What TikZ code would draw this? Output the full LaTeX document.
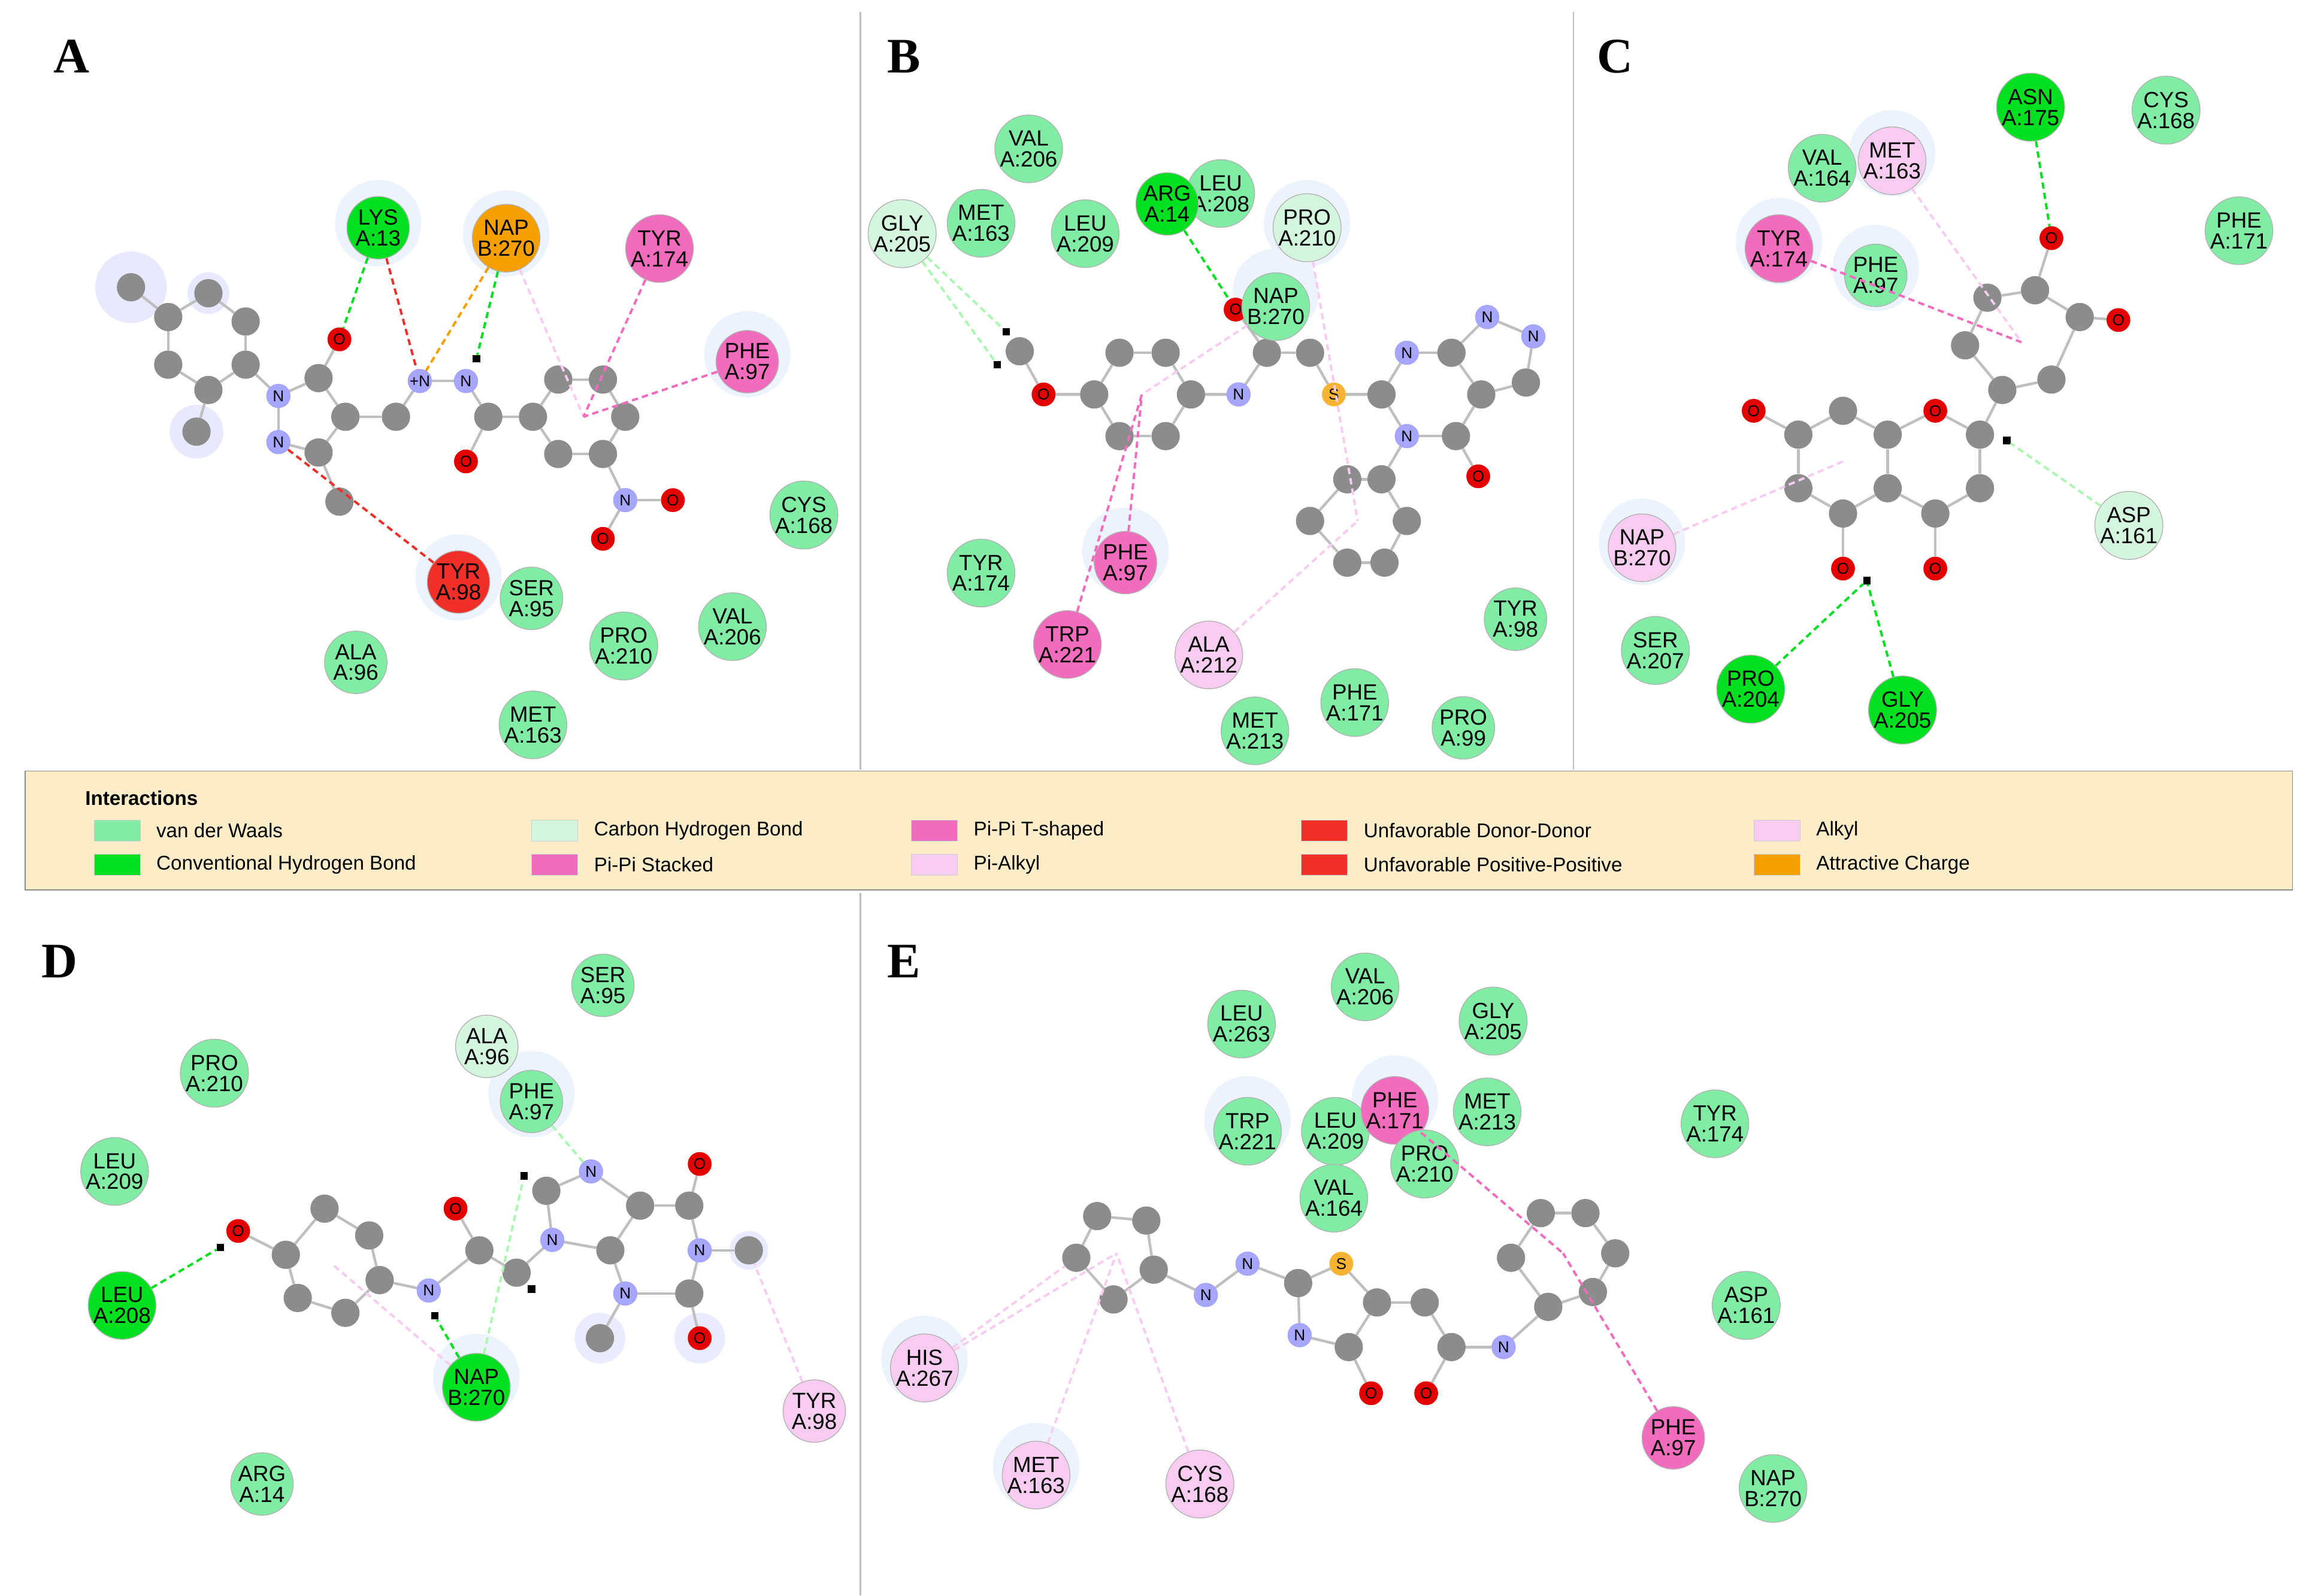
\documentclass[tikz,border=0pt]{standalone}
\usepackage{fontspec}
\setmainfont{Liberation Sans}
\newfontfamily\serifb{Liberation Serif}
\pgfdeclarelayer{hl}\pgfdeclarelayer{bg}\pgfsetlayers{hl,bg,main}
\begin{document}
\definecolor{vdw}{HTML}{80ECA4}
\definecolor{hb}{HTML}{00E020}
\definecolor{chb}{HTML}{D4F5DE}
\definecolor{pis}{HTML}{F26CBE}
\definecolor{pia}{HTML}{F8CCF0}
\definecolor{unf}{HTML}{F03028}
\definecolor{att}{HTML}{F5A000}
\definecolor{halo}{HTML}{EDF3FC}
\begin{tikzpicture}[x=1mm,y=-1mm,
 res/.style={circle,draw=black!30,line width=1.5pt,minimum size=42mm,inner sep=0,align=center,font=\fontsize{42}{40}\selectfont},
 rv/.style={res,fill=vdw},rh/.style={res,fill=hb},rc/.style={res,fill=chb},
 rp/.style={res,fill=pis},ra/.style={res,fill=pia},ru/.style={res,fill=unf},rt/.style={res,fill=att},
 c/.style={circle,fill=black!45,minimum size=19mm,inner sep=0},
 n/.style={circle,fill=blue!35,draw=blue!45,minimum size=16mm,inner sep=0,font=\fontsize{30}{30}\selectfont},
 o/.style={circle,fill=red!90!black,minimum size=16mm,inner sep=0,font=\fontsize{30}{30}\selectfont},
 s/.style={circle,fill=att!80,minimum size=16mm,inner sep=0,font=\fontsize{30}{30}\selectfont},
 h/.style={rectangle,fill=black,minimum size=5mm,inner sep=0},
 bd/.style={draw=black!25,line width=5pt},
 i/.style={line width=4.5pt,dash pattern=on 12pt off 8pt},
 ihb/.style={i,draw=hb},iu/.style={i,draw=unf},iat/.style={i,draw=att},
 ip/.style={i,draw=pis},ia/.style={i,draw=pia},ic/.style={i,draw=chb!80!green},
 ho/.style={circle,fill=halo,minimum size=58mm,inner sep=0},
 pl/.style={font=\serifb\bfseries\fontsize{95}{95}\selectfont}]
\newcommand\rs[5]{\node[#1] (#2) at (#3) {#4\\#5};}
\newcommand\hal[2]{\begin{pgfonlayer}{hl}\node[ho] (#1) at (#2) {};\end{pgfonlayer}}
\newcommand\bonds[1]{\begin{pgfonlayer}{bg}\foreach \p/\q in {#1}{\draw[bd] (\p)--(\q);}\end{pgfonlayer}}
\useasboundingbox (0,0) rectangle (1545,1072);
\begin{pgfonlayer}{hl}\fill[white] (0,0) rectangle (1545,1072);\end{pgfonlayer}
\draw[black!25,line width=3pt] (578,8)--(578,517) (1057,8)--(1057,517) (578,600)--(578,1072);
% legend
\draw[black!45,line width=2pt,fill={rgb,255:red,253;green,236;blue,200}] (17,518) rectangle (1540,598);
\node[anchor=west,font=\bfseries\fontsize{38}{38}\selectfont] (lt) at (56,536) {Interactions};
\foreach \x/\y/\col/\t [count=\k] in {63/558/vdw/van der Waals,63/581/hb/Conventional Hydrogen Bond,357/558/chb/Carbon Hydrogen Bond,357/581/pis/Pi-Pi Stacked,612/558/pis/Pi-Pi T-shaped,612/581/pia/Pi-Alkyl,874/558/unf/Unfavorable Donor-Donor,874/581/unf/Unfavorable Positive-Positive,1178/558/pia/Alkyl,1178/581/att/Attractive Charge}{
 \node[fill=\col,draw=black!20,minimum width=31mm,minimum height=14mm,inner sep=0,anchor=west] (sw\k) at (\x,\y) {};
 \node[anchor=west,font=\fontsize{38}{38}\selectfont,inner sep=0] (lb\k) at (\x+42,\y) {\t};}
\node[pl] (LA) at (48,38) {A};\node[pl] (LB) at (607,38) {B};\node[pl] (LC) at (1085,38) {C};
\node[pl] (LD) at (40,646) {D};\node[pl] (LE) at (607,646) {E};
%%%%%%%% PANEL A
\hal{ha1}{254,150}\hal{ha2}{340,157}\hal{ha3}{502,238}\hal{ha4}{308,388}
\begin{pgfonlayer}{hl}\fill[blue!9] (88,193) circle (24) (132,290) circle (18) (140,197) circle(14);\end{pgfonlayer}
\node[c] (a1) at (88,193) {};
\node[c] (a2) at (113,213) {};\node[c] (a3) at (140,197) {};\node[c] (a4) at (165,216) {};
\node[c] (a5) at (165,245) {};\node[c] (a6) at (140,262) {};\node[c] (a7) at (113,245) {};
\node[c] (a8) at (132,290) {};
\node[n] (a9) at (187,266) {N};\node[n] (a10) at (187,297) {N};
\node[c] (a11) at (214,254) {};\node[o] (a12) at (228,228) {O};
\node[c] (a13) at (232,280) {};\node[c] (a14) at (214,304) {};\node[c] (a15) at (228,337) {};
\node[c] (a16) at (266,280) {};\node[n] (a17) at (282,256) {+N};\node[n] (a18) at (313,256) {N};
\node[h] (a19) at (320,241) {};
\node[c] (a20) at (328,280) {};\node[o] (a21) at (313,310) {O};\node[c] (a22) at (358,280) {};
\node[c] (a23) at (375,255) {};\node[c] (a24) at (405,255) {};\node[c] (a25) at (420,280) {};
\node[c] (a26) at (405,305) {};\node[c] (a27) at (375,305) {};
\node[n] (a28) at (420,336) {N};\node[o] (a29) at (452,336) {O};\node[o] (a30) at (405,362) {O};
\bonds{a2/a3,a3/a4,a4/a5,a5/a6,a6/a7,a7/a2,a1/a2,a6/a8,a5/a9,a9/a11,a11/a12,a11/a13,a13/a14,a14/a10,a10/a9,a14/a15,a13/a16,a16/a17,a17/a18,a18/a20,a20/a21,a20/a22,a22/a23,a23/a24,a24/a25,a25/a26,a26/a27,a27/a22,a26/a28,a28/a29,a28/a30}
\rs{rh}{lys13}{254,153}{LYS}{A:13}
\rs{rt}{napA}{340,160}{NAP}{B:270}
\rs{rp}{tyr174a}{443,167}{TYR}{A:174}
\rs{rp}{phe97a}{502,243}{PHE}{A:97}
\rs{rv}{cys168a}{540,346}{CYS}{A:168}
\rs{ru}{tyr98a}{308,391}{TYR}{A:98}
\rs{rv}{ser95a}{357,402}{SER}{A:95}
\rs{rv}{pro210a}{419,434}{PRO}{A:210}
\rs{rv}{val206a}{492,421}{VAL}{A:206}
\rs{rv}{ala96a}{239,445}{ALA}{A:96}
\rs{rv}{met163a}{358,487}{MET}{A:163}
\coordinate (ringA) at (392,280);
\draw[ihb] (lys13)--(a12);\draw[iu] (lys13)--(a17);\draw[iat] (napA)--(a17);\draw[ihb] (napA)--(a19);
\draw[ia] (napA)--(ringA);\draw[ip] (tyr174a)--(ringA);\draw[ip] (phe97a)--(ringA);\draw[iu] (tyr98a)--(a10);
%%%%%%%% PANEL B
\hal{hb1}{857,196}\hal{hb2}{756,370}\hal{hb3}{878,150}
\node[h] (b0) at (676,223) {};\node[c] (b1) at (685,236) {};\node[h] (b2) at (670,245) {};\node[o] (b3) at (701,265) {O};
\node[c] (b4) at (735,265) {};\node[c] (b5) at (752,237) {};\node[c] (b6) at (783,237) {};\node[c] (b7) at (800,265) {};
\node[c] (b8) at (783,293) {};\node[c] (b9) at (752,293) {};
\node[n] (b10) at (832,265) {N};\node[c] (b11) at (851,237) {};\node[o] (b12) at (830,208) {O};
\node[c] (b13) at (880,237) {};\node[s] (b14) at (896,265) {S};\node[c] (b15) at (928,265) {};
\node[n] (b16) at (945,237) {N};\node[c] (b17) at (975,237) {};\node[c] (b18) at (995,265) {};
\node[n] (b19) at (945,293) {N};\node[c] (b20) at (978,293) {};\node[o] (b21) at (993,320) {O};
\node[n] (b22) at (999,213) {N};\node[n] (b23) at (1030,226) {N};\node[c] (b24) at (1025,257) {};
\node[c] (b25) at (928,322) {};\node[c] (b26) at (905,322) {};\node[c] (b27) at (880,350) {};\node[c] (b28) at (905,378) {};\node[c] (b29) at (930,378) {};\node[c] (b30) at (945,350) {};
\bonds{b1/b3,b3/b4,b4/b5,b5/b6,b6/b7,b7/b8,b8/b9,b9/b4,b7/b10,b10/b11,b11/b12,b11/b13,b13/b14,b14/b15,b15/b16,b16/b17,b17/b18,b18/b20,b20/b19,b19/b15,b20/b21,b17/b22,b22/b23,b23/b24,b24/b18,b19/b25,b25/b26,b26/b27,b27/b28,b28/b29,b29/b30,b30/b25}
\rs{rv}{val206b}{691,100}{VAL}{A:206}
\rs{rc}{gly205b}{606,157}{GLY}{A:205}
\rs{rv}{met163b}{659,150}{MET}{A:163}
\rs{rv}{leu209b}{729,157}{LEU}{A:209}
\rs{rv}{leu208b}{820,130}{LEU}{A:208}
\rs{rh}{arg14b}{784,137}{ARG}{A:14}
\rs{rc}{pro210b}{878,153}{PRO}{A:210}
\rs{rv}{napb}{857,206}{NAP}{B:270}
\rs{rv}{tyr174b}{659,385}{TYR}{A:174}
\rs{rp}{phe97b}{756,378}{PHE}{A:97}
\rs{rp}{trp221b}{717,433}{TRP}{A:221}
\rs{ra}{ala212b}{812,440}{ALA}{A:212}
\rs{rv}{met213b}{843,491}{MET}{A:213}
\rs{rv}{phe171b}{910,472}{PHE}{A:171}
\rs{rv}{pro99b}{983,489}{PRO}{A:99}
\rs{rv}{tyr98b}{1018,416}{TYR}{A:98}
\coordinate (ringB) at (767,265);\coordinate (ringB2) at (912,350);
\draw[ic] (gly205b)--(b0);\draw[ic] (gly205b)--(b2);\draw[ihb] (arg14b)--(b12);
\draw[ip] (phe97b)--(ringB);\draw[ip] (trp221b)--(ringB);\draw[ia] (ala212b)--(ringB2);\draw[ia] (pro210b)--(ringB2);\draw[ia] (napb)--(ringB);
%%%%%%%% PANEL C
\hal{hc1}{1271,103}\hal{hc2}{1195,162}\hal{hc3}{1260,180}\hal{hc4}{1103,364}
\node[o] (c1) at (1378,160) {O};\node[c] (c2) at (1367,195) {};\node[c] (c3) at (1335,200) {};\node[c] (c4) at (1397,213) {};
\node[c] (c5) at (1378,255) {};\node[c] (c6) at (1345,262) {};\node[c] (c7) at (1320,232) {};\node[o] (c8) at (1423,215) {O};
\node[c] (c9) at (1330,292) {};\node[h] (c10) at (1348,296) {};
\node[c] (c11) at (1208,292) {};\node[c] (c12) at (1238,276) {};\node[c] (c13) at (1268,292) {};\node[c] (c14) at (1268,328) {};\node[c] (c15) at (1238,345) {};\node[c] (c16) at (1208,328) {};
\node[o] (c17) at (1300,276) {O};\node[c] (c18) at (1330,328) {};\node[c] (c19) at (1300,345) {};
\node[o] (c20) at (1178,276) {O};\node[o] (c21) at (1238,382) {O};\node[o] (c22) at (1300,382) {O};\node[h] (c23) at (1254,390) {};
\bonds{c1/c2,c2/c3,c2/c4,c4/c5,c5/c6,c6/c7,c7/c3,c4/c8,c6/c9,c11/c12,c12/c13,c13/c14,c14/c15,c15/c16,c16/c11,c13/c17,c17/c9,c9/c18,c18/c19,c19/c14,c11/c20,c15/c21,c19/c22}
\rs{rh}{asn175c}{1364,72}{ASN}{A:175}
\rs{rv}{cys168c}{1455,74}{CYS}{A:168}
\rs{rv}{val164c}{1224,113}{VAL}{A:164}
\rs{ra}{met163c}{1271,108}{MET}{A:163}
\rs{rv}{phe171c}{1504,155}{PHE}{A:171}
\rs{rp}{tyr174c}{1195,167}{TYR}{A:174}
\rs{rv}{phe97c}{1260,185}{PHE}{A:97}
\rs{ra}{napc}{1103,368}{NAP}{B:270}
\rs{rc}{asp161c}{1430,353}{ASP}{A:161}
\rs{rv}{ser207c}{1112,437}{SER}{A:207}
\rs{rh}{pro204c}{1176,463}{PRO}{A:204}
\rs{rh}{gly205c}{1278,477}{GLY}{A:205}
\coordinate (ringC) at (1358,230);\coordinate (ringC2) at (1238,310);
\draw[ihb] (asn175c)--(c1);\draw[ip] (tyr174c)--(ringC);\draw[ia] (met163c)--(ringC);\draw[ia] (napc)--(ringC2);
\draw[ic] (asp161c)--(c10);\draw[ihb] (pro204c)--(c23);\draw[ihb] (gly205c)--(c23);
%%%%%%%% PANEL D
\hal{hd1}{357,735}\hal{hd2}{320,925}
\begin{pgfonlayer}{hl}\fill[blue!8] (403,899) circle (17) (470,899) circle (17) (503,840) circle (13);\end{pgfonlayer}
\node[o] (d1) at (160,827) {O};\node[h] (d2) at (148,838) {};
\node[c] (d3) at (192,843) {};\node[c] (d4) at (218,812) {};\node[c] (d5) at (248,830) {};\node[c] (d6) at (255,860) {};\node[c] (d7) at (232,882) {};\node[c] (d8) at (200,872) {};
\node[n] (d9) at (288,867) {N};\node[h] (d10) at (292,884) {};\node[c] (d11) at (322,840) {};\node[o] (d12) at (306,812) {O};
\node[c] (d13) at (347,855) {};\node[h] (d14) at (357,866) {};\node[n] (d15) at (371,833) {N};\node[c] (d16) at (367,800) {};\node[h] (d17) at (352,790) {};
\node[n] (d18) at (397,787) {N};\node[c] (d19) at (430,810) {};\node[c] (d20) at (463,810) {};\node[o] (d21) at (470,782) {O};
\node[n] (d22) at (470,840) {N};\node[c] (d23) at (503,840) {};\node[c] (d24) at (463,869) {};\node[o] (d25) at (470,899) {O};
\node[n] (d26) at (420,869) {N};\node[c] (d27) at (403,899) {};\node[c] (d28) at (410,840) {};
\bonds{d1/d3,d3/d4,d4/d5,d5/d6,d6/d7,d7/d8,d8/d3,d6/d9,d9/d11,d11/d12,d11/d13,d13/d15,d15/d16,d16/d18,d18/d19,d19/d28,d28/d15,d19/d20,d20/d21,d20/d22,d22/d23,d22/d24,d24/d25,d24/d26,d26/d28,d26/d27}
\rs{rv}{ser95d}{405,662}{SER}{A:95}
\rs{rc}{ala96d}{327,703}{ALA}{A:96}
\rs{rv}{phe97d}{357,740}{PHE}{A:97}
\rs{rv}{pro210d}{144,721}{PRO}{A:210}
\rs{rv}{leu209d}{77,787}{LEU}{A:209}
\rs{rh}{leu208d}{82,877}{LEU}{A:208}
\rs{rh}{napd}{320,932}{NAP}{B:270}
\rs{ra}{tyr98d}{547,948}{TYR}{A:98}
\rs{rv}{arg14d}{176,997}{ARG}{A:14}
\coordinate (ringD) at (224,850);
\draw[ihb] (leu208d)--(d2);\draw[ihb] (napd)--(d10);\draw[ic] (napd)--(d17);\draw[ic] (phe97d)--(d18);
\draw[ia] (napd)--(ringD);\draw[ia] (tyr98d)--(d23);
%%%%%%%% PANEL E
\hal{he1}{838,752}\hal{he2}{937,738}\hal{he3}{696,985}\hal{he4}{621,913}
\node[c] (e1) at (723,845) {};\node[c] (e2) at (737,817) {};\node[c] (e3) at (770,820) {};\node[c] (e4) at (775,853) {};\node[c] (e5) at (748,873) {};
\node[n] (e6) at (810,870) {N};\node[n] (e7) at (838,849) {N};\node[c] (e8) at (872,862) {};\node[s] (e9) at (901,849) {S};
\node[c] (e10) at (925,875) {};\node[n] (e11) at (873,897) {N};\node[c] (e12) at (906,905) {};\node[o] (e13) at (921,936) {O};
\node[c] (e14) at (957,875) {};\node[c] (e15) at (975,905) {};\node[o] (e16) at (958,936) {O};\node[n] (e17) at (1010,905) {N};
\node[c] (e18) at (1040,878) {};\node[c] (e19) at (1070,868) {};\node[c] (e20) at (1085,842) {};\node[c] (e21) at (1065,815) {};\node[c] (e22) at (1035,815) {};\node[c] (e23) at (1015,845) {};
\bonds{e1/e2,e2/e3,e3/e4,e4/e5,e5/e1,e4/e6,e6/e7,e7/e8,e8/e9,e9/e10,e8/e11,e11/e12,e12/e10,e12/e13,e10/e14,e14/e15,e15/e16,e15/e17,e17/e18,e18/e19,e19/e20,e20/e21,e21/e22,e22/e23,e23/e18}
\rs{rv}{leu263e}{834,688}{LEU}{A:263}
\rs{rv}{val206e}{917,663}{VAL}{A:206}
\rs{rv}{gly205e}{1003,686}{GLY}{A:205}
\rs{rv}{trp221e}{838,760}{TRP}{A:221}
\rs{rv}{leu209e}{897,760}{LEU}{A:209}
\rs{rp}{phe171e}{937,746}{PHE}{A:171}
\rs{rv}{met213e}{999,747}{MET}{A:213}
\rs{rv}{pro210e}{957,782}{PRO}{A:210}
\rs{rv}{val164e}{896,805}{VAL}{A:164}
\rs{rv}{tyr174e}{1152,755}{TYR}{A:174}
\rs{rv}{asp161e}{1173,877}{ASP}{A:161}
\rs{ra}{his267e}{621,919}{HIS}{A:267}
\rs{ra}{met163e}{696,991}{MET}{A:163}
\rs{ra}{cys168e}{806,997}{CYS}{A:168}
\rs{rp}{phe97e}{1124,966}{PHE}{A:97}
\rs{rv}{nape}{1191,1000}{NAP}{B:270}
\coordinate (ringE) at (750,842);\coordinate (ringE2) at (1050,842);
\draw[ia] (his267e)--(ringE);\draw[ia] (his267e)--(e1);\draw[ia] (met163e)--(ringE);\draw[ia] (cys168e)--(ringE);
\draw[ip] (phe97e)--(ringE2);\draw[ip] (phe171e)--(ringE2);
\end{tikzpicture}
\end{document}
